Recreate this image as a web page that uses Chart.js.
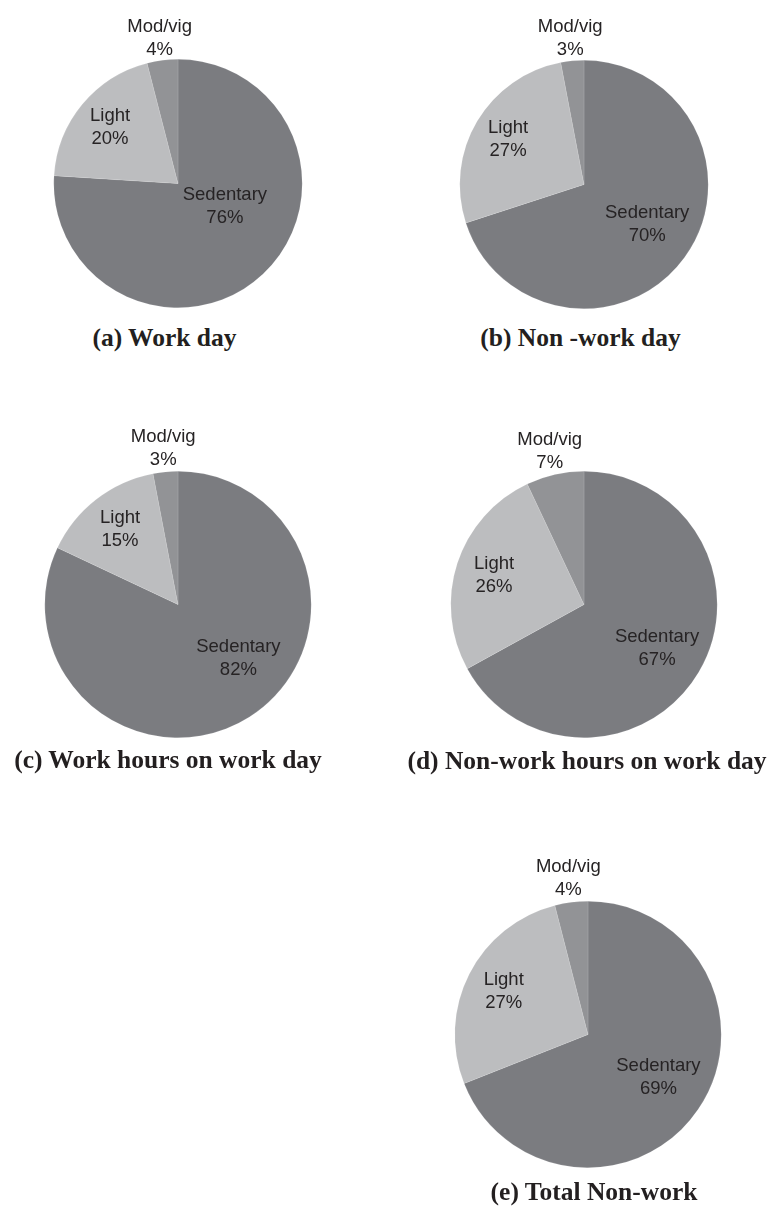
<!DOCTYPE html>
<html>
<head>
<meta charset="utf-8">
<script src="https://cdn.jsdelivr.net/npm/chart.js@4/dist/chart.umd.min.js"></script>
<style>
  body { margin: 0; background: #fff; width: 771px; height: 1208px; position: relative; overflow: hidden; }
  .panel { position: absolute; }
  .title { position: absolute; font: bold 25.5px "Liberation Serif", "Times New Roman", serif; color: #231f20; white-space: nowrap; transform: translate(-50%, -50%); }
</style>
</head>
<body>
<script>
// categories and values
const categories = ['Sedentary', 'Light', 'Mod/vig'];
const workDay = [76, 20, 4];
const nonWorkDay = [70, 27, 3];
const workHours = [82, 15, 3];
const nonWorkHours = [67, 26, 7];
const totalNonWork = [69, 27, 4];
const panelTitles = ['(a) Work day', '(b) Non -work day', '(c) Work hours on work day',
  '(d) Non-work hours on work day', '(e) Total Non-work'];

const sliceColors = ['#7b7c80', '#bcbdbf', '#929396'];

// where each pie sits on the page
const panels = [
  { values: workDay,      cx: 177.5, cy: 183.5,  r: 124.5, titleX: 164.5, titleY: 338, sedLabel: [116, 0.42] },
  { values: nonWorkDay,   cx: 584,   cy: 184.5,  r: 124.5, titleX: 580.5, titleY: 338, sedLabel: [122, 0.6] },
  { values: workHours,    cx: 177.5, cy: 604.5,  r: 133.5, titleX: 168,   titleY: 760, sedLabel: [132, 0.61] },
  { values: nonWorkHours, cx: 584,   cy: 604,    r: 133.5, titleX: 587,   titleY: 761, sedLabel: [121, 0.64] },
  { values: totalNonWork, cx: 587.5, cy: 1034.5, r: 133.5, titleX: 594,   titleY: 1192, sedLabel: [121.5, 0.62] }
];

// draws the two-line labels from each arc's own geometry
const sliceLabels = {
  id: 'sliceLabels',
  afterDatasetsDraw(chart, args, opts) {
    const ctx = chart.ctx;
    const meta = chart.getDatasetMeta(0);
    const vals = chart.data.datasets[0].data;
    ctx.save();
    ctx.font = '18.5px "Liberation Sans", Arial, sans-serif';
    ctx.fillStyle = '#262324';
    ctx.textAlign = 'center';
    ctx.textBaseline = 'middle';
    meta.data.forEach((arc, i) => {
      const p = arc.getProps(['x', 'y', 'startAngle', 'endAngle', 'outerRadius'], true);
      let ang = (p.startAngle + p.endAngle) / 2;
      let f = vals[i] < 10 ? 1.18 : 0.71;
      if (i === 0) {
        ang = opts.sedLabel[0] * Math.PI / 180 - Math.PI / 2;
        f = opts.sedLabel[1];
      }
      const x = p.x + Math.cos(ang) * p.outerRadius * f;
      const y = p.y + Math.sin(ang) * p.outerRadius * f;
      ctx.fillText(chart.data.labels[i], x, y - 11.5);
      ctx.fillText(vals[i] + '%', x, y + 11.5);
    });
    ctx.restore();
  }
};

const W = 340, TOP = 70, BOTTOM = 10;

panels.forEach((p, k) => {
  const div = document.createElement('div');
  div.className = 'panel';
  const h = 2 * p.r + TOP + BOTTOM;
  div.style.left = (p.cx - W / 2) + 'px';
  div.style.top = (p.cy - p.r - TOP) + 'px';
  div.style.width = W + 'px';
  div.style.height = h + 'px';
  const canvas = document.createElement('canvas');
  canvas.width = W;
  canvas.height = h;
  div.appendChild(canvas);
  document.body.appendChild(div);

  const t = document.createElement('div');
  t.className = 'title';
  t.textContent = panelTitles[k];
  t.style.left = p.titleX + 'px';
  t.style.top = p.titleY + 'px';
  document.body.appendChild(t);

  new Chart(canvas.getContext('2d'), {
    type: 'pie',
    data: {
      labels: categories,
      datasets: [{
        data: p.values,
        backgroundColor: sliceColors,
        borderColor: 'rgba(255,255,255,0.2)',
        borderWidth: 0.6
      }]
    },
    options: {
      responsive: false,
      animation: false,
      layout: { padding: { top: TOP, bottom: BOTTOM, left: W / 2 - p.r, right: W / 2 - p.r } },
      plugins: {
        legend: { display: false },
        tooltip: { enabled: false },
        sliceLabels: { sedLabel: p.sedLabel }
      }
    },
    plugins: [sliceLabels]
  });
});
</script>
</body>
</html>
